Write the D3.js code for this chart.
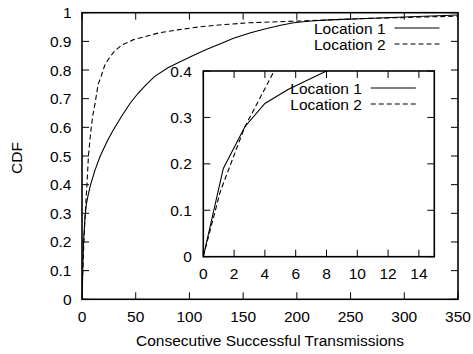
<!DOCTYPE html>
<html>
<head>
<meta charset="utf-8">
<script src="https://cdn.jsdelivr.net/npm/d3@7"></script>
<style>
  body { margin: 0; background: #fff; }
  svg { display: block; }
  text { font-family: "Liberation Sans", Arial, Helvetica, sans-serif; fill: #000; }
</style>
</head>
<body>
<svg id="chart" width="473" height="354"></svg>
<script>
// ---- data ----
const seriesNames = ["Location 1", "Location 2"];
const loc1X = [0, 1.3, 2.7, 4, 5.5, 8, 12, 17, 24, 29, 36.6, 45, 52, 60, 67.7, 80, 89.4, 103, 115.7, 130, 141, 157, 172, 185, 197, 213, 230, 265, 300, 350];
const loc1Y = [0, 0.19, 0.28, 0.33, 0.36, 0.40, 0.45, 0.50, 0.556, 0.59, 0.637, 0.685, 0.718, 0.75, 0.778, 0.808, 0.825, 0.85, 0.872, 0.893, 0.911, 0.93, 0.945, 0.956, 0.965, 0.971, 0.975, 0.98, 0.985, 0.992];
const loc2X = [0, 1.1, 2.7, 4.6, 6, 8, 10, 12, 15, 18, 21, 24, 30, 37, 48, 58, 72, 89, 110, 130, 156, 203, 265, 350];
const loc2Y = [0, 0.14, 0.28, 0.40, 0.50, 0.58, 0.64, 0.68, 0.75, 0.78, 0.815, 0.835, 0.865, 0.887, 0.906, 0.916, 0.93, 0.94, 0.951, 0.958, 0.965, 0.971, 0.98, 0.988];
const mainXTicks = [0, 50, 100, 150, 200, 250, 300, 350];
const mainYTicks = [0, 0.1, 0.2, 0.3, 0.4, 0.5, 0.6, 0.7, 0.8, 0.9, 1];
const mainYLabels = ["0", "0.1", "0.2", "0.3", "0.4", "0.5", "0.6", "0.7", "0.8", "0.9", "1"];
const insetXTicks = [0, 2, 4, 6, 8, 10, 12, 14];
const insetYTicks = [0, 0.1, 0.2, 0.3, 0.4];
const insetYLabels = ["0", "0.1", "0.2", "0.3", "0.4"];
const xLabel = "Consecutive Successful Transmissions";
const yLabel = "CDF";

const series = [
  { name: seriesNames[0], pts: loc1X.map((x, i) => [x, loc1Y[i]]), dash: null },
  { name: seriesNames[1], pts: loc2X.map((x, i) => [x, loc2Y[i]]), dash: "5,3" }
];

const svg = d3.select("#chart");
const FS = 15.5;
const TICK = 7;

function panel(opts) {
  const { x, y, xTicks, yTicks, yLabels, id, keyY } = opts;
  const [x0, x1] = x.range();
  const [y0, y1] = y.range(); // y0 bottom, y1 top
  const g = svg.append("g");

  g.append("rect").attr("x", x0).attr("y", y1).attr("width", x1 - x0).attr("height", y0 - y1)
    .attr("fill", "#fff");

  g.append("clipPath").attr("id", id).append("rect")
    .attr("x", x0).attr("y", y1).attr("width", x1 - x0).attr("height", y0 - y1);

  // ticks (inward, mirrored)
  const tg = g.append("g").attr("stroke", "#000").attr("stroke-width", 1);
  xTicks.forEach(t => {
    const px = x(t);
    tg.append("line").attr("x1", px).attr("x2", px).attr("y1", y0).attr("y2", y0 - TICK);
    tg.append("line").attr("x1", px).attr("x2", px).attr("y1", y1).attr("y2", y1 + TICK);
  });
  yTicks.forEach(t => {
    const py = y(t);
    tg.append("line").attr("x1", x0).attr("x2", x0 + TICK).attr("y1", py).attr("y2", py);
    tg.append("line").attr("x1", x1).attr("x2", x1 - TICK).attr("y1", py).attr("y2", py);
  });

  // tick labels
  g.selectAll(null).data(xTicks).enter().append("text")
    .attr("x", d => x(d)).attr("y", y0 + opts.xLabOff)
    .attr("text-anchor", "middle").attr("font-size", FS).text(d => d);
  g.selectAll(null).data(yTicks).enter().append("text")
    .attr("x", x0 - opts.yLabGap).attr("y", d => y(d) + 5.5)
    .attr("text-anchor", "end").attr("font-size", FS).text((d, i) => yLabels[i]);

  // curves
  const line = d3.line().x(d => x(d[0])).y(d => y(d[1]));
  const cg = g.append("g").attr("clip-path", `url(#${id})`);
  series.forEach(s => {
    cg.append("path").attr("d", line(s.pts)).attr("fill", "none")
      .attr("stroke", "#000").attr("stroke-width", 1.1)
      .attr("stroke-dasharray", s.dash);
  });

  // border
  g.append("rect").attr("x", x0).attr("y", y1).attr("width", x1 - x0).attr("height", y0 - y1)
    .attr("fill", "none").attr("stroke", "#000").attr("stroke-width", 1.6);

  // key
  const lineEnd = x1 - 18.5, lineStart = lineEnd - 45, textEnd = lineStart - 9;
  series.forEach((s, i) => {
    const ky = keyY[i];
    g.append("text").attr("x", textEnd).attr("y", ky + 5.5).attr("text-anchor", "end")
      .attr("font-size", FS).text(s.name);
    g.append("line").attr("x1", lineStart).attr("x2", lineEnd).attr("y1", ky).attr("y2", ky)
      .attr("stroke", "#000").attr("stroke-width", 1.1).attr("stroke-dasharray", s.dash);
  });
}

// main plot
const xMain = d3.scaleLinear().domain([0, 350]).range([82, 458]);
const yMain = d3.scaleLinear().domain([0, 1]).range([299.3, 12.7]);
panel({ x: xMain, y: yMain, xTicks: mainXTicks, yTicks: mainYTicks, yLabels: mainYLabels,
        id: "clipMain", keyY: [28, 44], xLabOff: 22.5, yLabGap: 10.5 });

svg.append("text").attr("x", 270).attr("y", 346).attr("text-anchor", "middle")
  .attr("font-size", FS).text(xLabel);
svg.append("text").attr("transform", "translate(22,158) rotate(-90)")
  .attr("text-anchor", "middle").attr("font-size", FS).text(yLabel);

// inset
const xIn = d3.scaleLinear().domain([0, 15]).range([203.3, 434.3]);
const yIn = d3.scaleLinear().domain([0, 0.4]).range([256.7, 71]);
panel({ x: xIn, y: yIn, xTicks: insetXTicks, yTicks: insetYTicks, yLabels: insetYLabels,
        id: "clipInset", keyY: [88, 104], xLabOff: 22.5, yLabGap: 11.5 });
</script>
</body>
</html>
